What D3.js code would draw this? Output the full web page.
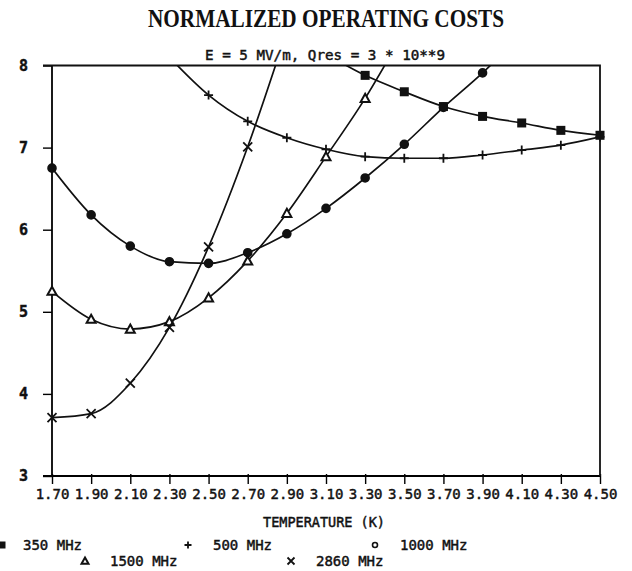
<!DOCTYPE html>
<html>
<head>
<meta charset="utf-8">
<script src="https://cdn.jsdelivr.net/npm/d3@7"></script>
<style>
  body { margin: 0; background: #fff; }
  text { fill: #111; }
  .mono { font-family: "DejaVu Sans Mono", "Liberation Mono", monospace; stroke: #111; stroke-width: 0.45px; }
</style>
</head>
<body>
<svg id="chart" width="632" height="571"></svg>
<script>
// temperatures (K) on the x axis
const temps = [1.7, 1.9, 2.1, 2.3, 2.5, 2.7, 2.9, 3.1, 3.3, 3.5, 3.7, 3.9, 4.1, 4.3, 4.5];
const xTicks = temps;
const yTicks = [3, 4, 5, 6, 7, 8];

// normalized costs, null = not drawn (points above 8 are clipped)
const cost350  = [null, null, null, null, null, null, null, 8.14, 7.88, 7.68, 7.50, 7.38, 7.30, 7.21, 7.15];
const cost500  = [null, null, null, 8.10, 7.64, 7.32, 7.12, 6.98, 6.89, 6.87, 6.87, 6.91, 6.97, 7.03, 7.13];
const cost1000 = [6.75, 6.18, 5.80, 5.61, 5.59, 5.72, 5.95, 6.26, 6.63, 7.04, 7.49, 7.91, 8.38, null, null];
const cost1500 = [5.25, 4.91, 4.79, 4.88, 5.17, 5.62, 6.20, 6.89, 7.60, 8.42, null, null, null, null, null];
const cost2860 = [3.71, 3.76, 4.13, 4.81, 5.79, 7.01, 8.42, null, null, null, null, null, null, null, null];

const series = [
  { name: "350 MHz",  values: cost350,  mark: "square" },
  { name: "500 MHz",  values: cost500,  mark: "plus" },
  { name: "1000 MHz", values: cost1000, mark: "circle" },
  { name: "1500 MHz", values: cost1500, mark: "triangle" },
  { name: "2860 MHz", values: cost2860, mark: "cross" }
];

const svg = d3.select("#chart");
const pLeft = 52, pRight = 600, pTop = 65.5, pBottom = 476;

const x = d3.scaleLinear().domain([1.7, 4.5]).range([pLeft, pRight]);
const y = d3.scaleLinear().domain([3, 8]).range([pBottom, pTop]);

// titles
svg.append("text")
    .attr("x", 326).attr("y", 27)
    .attr("text-anchor", "middle")
    .attr("font-family", "Liberation Serif, Times New Roman, serif")
    .attr("font-weight", "bold")
    .attr("font-size", 26)
    .attr("textLength", 356).attr("lengthAdjust", "spacingAndGlyphs")
    .text("NORMALIZED OPERATING COSTS");

svg.append("text").attr("class", "mono")
    .attr("x", 325).attr("y", 60)
    .attr("text-anchor", "middle")
    .attr("font-size", 14)
    .attr("textLength", 240).attr("lengthAdjust", "spacingAndGlyphs")
    .text("E = 5 MV/m, Qres = 3 * 10**9");

// axes
const xAxis = svg.append("g")
    .attr("transform", "translate(0," + pBottom + ")")
    .call(d3.axisBottom(x).tickValues(xTicks).tickSize(8).tickPadding(5).tickFormat(d3.format(".2f")));
xAxis.select(".domain").attr("stroke-width", 1.8).attr("d", "M" + (pLeft - 9) + ",0H" + pRight);
xAxis.selectAll(".tick line").attr("stroke-width", 1.4).attr("y1", -2);
xAxis.selectAll(".tick text").attr("class", "mono").attr("font-size", 14).attr("fill", "#111");

const yAxis = svg.append("g")
    .attr("transform", "translate(" + pLeft + ",0)")
    .call(d3.axisLeft(y).tickValues(yTicks).tickSize(9).tickPadding(15).tickFormat(d3.format("d")));
yAxis.select(".domain").attr("stroke-width", 1.8).attr("d", "M0," + pTop + "V" + pBottom);
yAxis.selectAll(".tick line").attr("stroke-width", 1.4);
yAxis.selectAll(".tick text").attr("class", "mono").attr("font-size", 15).attr("font-weight", "bold").attr("fill", "#111");

// top and right frame
svg.append("path")
    .attr("d", "M" + (pLeft - 9) + "," + pTop + "H" + pRight + "V" + pBottom)
    .attr("fill", "none").attr("stroke", "#111").attr("stroke-width", 1.8);

svg.append("text").attr("class", "mono")
    .attr("x", 324).attr("y", 527)
    .attr("text-anchor", "middle")
    .attr("font-size", 14)
    .attr("textLength", 122).attr("lengthAdjust", "spacingAndGlyphs")
    .text("TEMPERATURE (K)");

// lines
svg.append("clipPath").attr("id", "plot")
  .append("rect").attr("x", pLeft).attr("y", pTop).attr("width", pRight - pLeft).attr("height", pBottom - pTop);

const line = d3.line()
    .defined(d => d.v != null)
    .x(d => x(d.t)).y(d => y(d.v))
    .curve(d3.curveMonotoneX);

function drawMark(g, type, size, filled) {
  const s = size / 2;
  if (type == "square") {
    g.append("rect").attr("x", -s).attr("y", -s).attr("width", size).attr("height", size)
      .attr("fill", "#111");
  } else if (type == "plus") {
    g.append("path").attr("d", "M" + (-s) + ",0H" + s + "M0," + (-s) + "V" + s)
      .attr("stroke", "#111").attr("stroke-width", 1.8);
  } else if (type == "circle") {
    g.append("circle").attr("r", s)
      .attr("fill", filled ? "#111" : "#fff").attr("stroke", "#111").attr("stroke-width", 1.6);
  } else if (type == "triangle") {
    g.append("path").attr("d", "M0," + (-s) + "L" + s + "," + (s * 0.8) + "H" + (-s) + "Z")
      .attr("fill", "#fff").attr("stroke", "#111").attr("stroke-width", 2);
  } else {
    g.append("path").attr("d", "M" + (-s) + "," + (-s) + "L" + s + "," + s + "M" + (-s) + "," + s + "L" + s + "," + (-s))
      .attr("stroke", "#111").attr("stroke-width", 1.8);
  }
}

series.forEach(function(sr) {
  const pts = temps.map((t, i) => ({ t: t, v: sr.values[i] }));
  svg.append("path")
      .datum(pts)
      .attr("clip-path", "url(#plot)")
      .attr("fill", "none").attr("stroke", "#111").attr("stroke-width", 1.7)
      .attr("d", line);

  pts.filter(d => d.v != null && d.v <= 8).forEach(function(d) {
    const g = svg.append("g").attr("transform", "translate(" + x(d.t) + "," + y(d.v) + ")");
    drawMark(g, sr.mark, sr.mark == "circle" ? 8 : 9, true);
  });
});

// legend, two staggered rows
const legendPos = [[2, 545], [188, 545], [375, 545], [85, 561], [291, 561]];
series.forEach(function(sr, i) {
  const g = svg.append("g").attr("transform", "translate(" + legendPos[i][0] + "," + legendPos[i][1] + ")");
  drawMark(g, sr.mark, sr.mark == "circle" ? 5 : 7, false);
  g.append("text").attr("class", "mono")
      .attr("x", i == 0 ? 21 : 25).attr("y", 5)
      .attr("font-size", 14)
      .text(sr.name);
});
</script>
</body>
</html>
